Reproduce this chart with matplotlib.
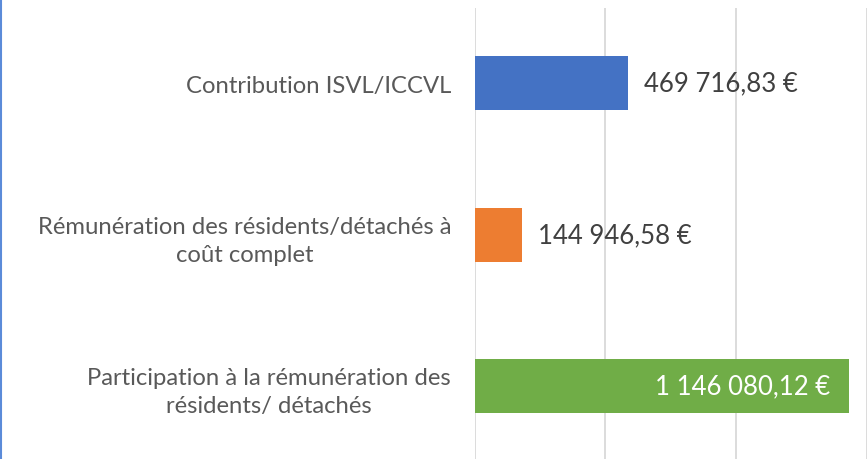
import matplotlib
matplotlib.use("Agg")
import matplotlib.pyplot as plt
from matplotlib.lines import Line2D

categories = [
    "Contribution ISVL/ICCVL",
    "Rémunération des résidents/détachés à\ncoût complet",
    "Participation à la rémunération des\nrésidents/ détachés",
]
values = [469716.83, 144946.58, 1146080.12]
value_labels = ["469 716,83 €", "144 946,58 €", "1 146 080,12 €"]
colors = ["#4472C4", "#ED7D31", "#70AD47"]
xticks = [0, 400000, 800000, 1200000]

plt.rcParams['font.family'] = ['Lato', 'DejaVu Sans']

fig = plt.figure(figsize=(8.68, 4.6), dpi=100)
ax = fig.add_axes([474.7/868, -3/460, (866.7-474.7)/868, 454.5/460])

ypos = list(range(len(categories)))
ax.barh(ypos, values, height=0.356, color=colors, zorder=3)
ax.set_ylim(len(categories) - 0.5, -0.5)
ax.set_xlim(0, 1200000)
ax.set_xticks(xticks)
ax.set_xticklabels([])
ax.tick_params(axis='x', length=0)
ax.tick_params(axis='y', length=0, pad=17)
ax.set_yticks(ypos)
ax.set_yticklabels(categories, fontsize=17.2, color="#595959", ha='right',
                   multialignment='center', linespacing=1.42)
ax.grid(axis='x', color="#d9d9d9", linewidth=1.3, zorder=0)
for s in ax.spines.values():
    s.set_visible(False)

for i, (v, lab) in enumerate(zip(values, value_labels)):
    if v > 1000000:
        ax.annotate(lab, (v, i), xytext=(-19, 0), textcoords='offset pixels',
                    ha='right', va='center', fontsize=18.5, color='white', zorder=4)
    else:
        ax.annotate(lab, (v, i), xytext=(16, 0), textcoords='offset pixels',
                    ha='left', va='center', fontsize=18.5, color='#404040', zorder=4)

fig.add_artist(Line2D([0.6/868, 0.6/868], [0, 1], transform=fig.transFigure,
                      color="#5B8BD9", linewidth=1.5))

fig.savefig("out.png", dpi=100)
